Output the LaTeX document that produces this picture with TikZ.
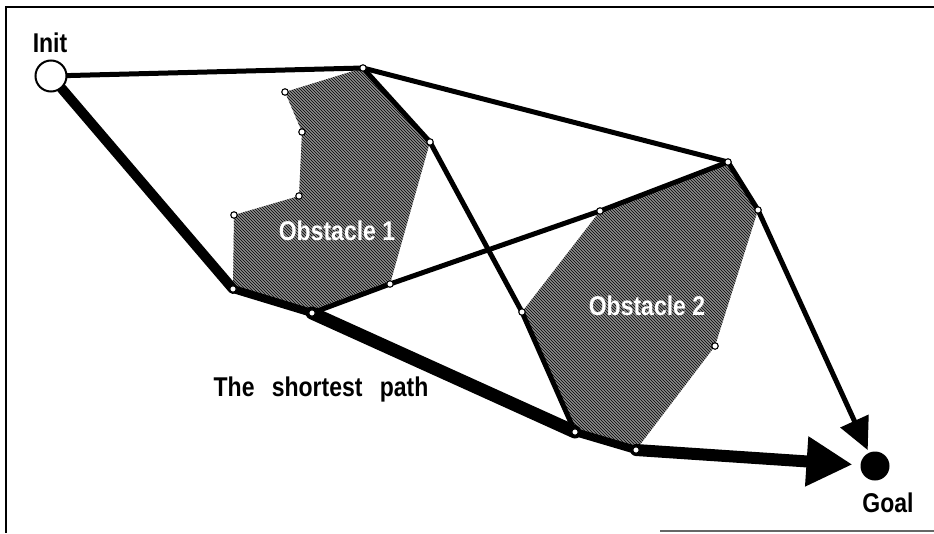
\documentclass[tikz,border=0pt]{standalone}
\usepackage{fontspec}
\setmainfont{Liberation Sans}
\usetikzlibrary{arrows.meta,patterns}
\pgfdeclarelayer{bg}
\pgfsetlayers{bg,main}
\newcommand{\tall}[1]{\scalebox{1}[1.18]{#1}}
\begin{document}
\begin{tikzpicture}[x=1pt,y=-1pt,
  thinedge/.style={line width=5pt, line cap=round, line join=round},
  pathedge/.style={line cap=round, line join=round},
  vtx/.style={circle, draw=black, fill=white, line width=1.1pt, inner sep=0pt, minimum size=6.5pt},
  obstacle/.style={fill=black!45, postaction={pattern=north west lines, pattern color=black}},
  lbl/.style={font=\fontsize{23}{27}\selectfont\bfseries, inner sep=0pt},
  endpt/.style={circle, inner sep=0pt, line width=2pt}]
\useasboundingbox (0,0) rectangle (934,533);
% frame
\draw[line width=2pt] (934,7) -- (6,7) -- (6,533);
\draw[line width=1.5pt, black!60] (660,531) -- (934,531);

% vertices
\coordinate (A) at (363,68);
\coordinate (O1b) at (285,92);
\coordinate (O1c) at (302,132);
\coordinate (O1d) at (299,196);
\coordinate (O1e) at (234,215);
\coordinate (B) at (430,142);
\coordinate (C) at (233,289);
\coordinate (D) at (312,313);
\coordinate (E) at (390,284);
\coordinate (F) at (728,162);
\coordinate (G) at (600,211);
\coordinate (H) at (758,210);
\coordinate (I) at (522,312);
\coordinate (J) at (715,346);
\coordinate (K) at (575,432);
\coordinate (L) at (636,450);

% start and goal
\node[endpt, draw=black, fill=white, minimum size=31pt] (init) at (51,76) {};
\node[endpt, fill=black, minimum size=29pt] (goal) at (875,466) {};

\begin{pgfonlayer}{bg}
  % obstacles
  \path[obstacle] (A) -- (B) -- (E) -- (D) -- (C) -- (O1e) -- (O1d) -- (O1c) -- (O1b) -- cycle;
  \path[obstacle] (F) -- (H) -- (J) -- (L) -- (K) -- (I) -- (G) -- cycle;
  % visibility graph edges
  \draw[thinedge] (init) -- (A);
  \draw[thinedge] (A) -- (B);
  \draw[thinedge] (A) -- (F);
  \draw[thinedge] (B) -- (I) -- (K);
  \draw[thinedge] (D) -- (E) -- (G) -- (F);
  \draw[thinedge] (F) -- (H);
  \draw[thinedge, line cap=butt, -{Triangle[length=32pt,width=30pt]}, shorten >=2pt] (H) -- (goal);
  % shortest path
  \draw[pathedge, line width=10pt] (init) -- (C);
  \draw[pathedge, line width=8pt] (C) -- (D);
  \draw[pathedge, line width=13pt] (D) -- (K);
  \draw[pathedge, line width=8pt] (K) -- (L);
  \draw[line width=12pt, line cap=round, -{Triangle[length=46pt,width=47pt]}, shorten >=7pt] (L) -- (goal);
\end{pgfonlayer}

% vertex markers
\foreach \p in {A,O1b,O1c,O1d,O1e,B,C,D,E,F,G,H,I,J,K,L}
  \node[vtx] (v\p) at (\p) {};

% labels
\node[lbl, anchor=base] (initlbl) at (50,52) {\tall{Init}};
\node[lbl, anchor=base] (goallbl) at (888,512) {\tall{Goal}};
\node[lbl, anchor=base] (splbl) at (321,396) {\tall{The\hspace{0.75em}shortest\hspace{0.75em}path}};
\node[lbl, white, anchor=base] (o1lbl) at (337,240) {\tall{Obstacle 1}};
\node[lbl, white, anchor=base] (o2lbl) at (647,315) {\tall{Obstacle 2}};
\end{tikzpicture}
\end{document}
